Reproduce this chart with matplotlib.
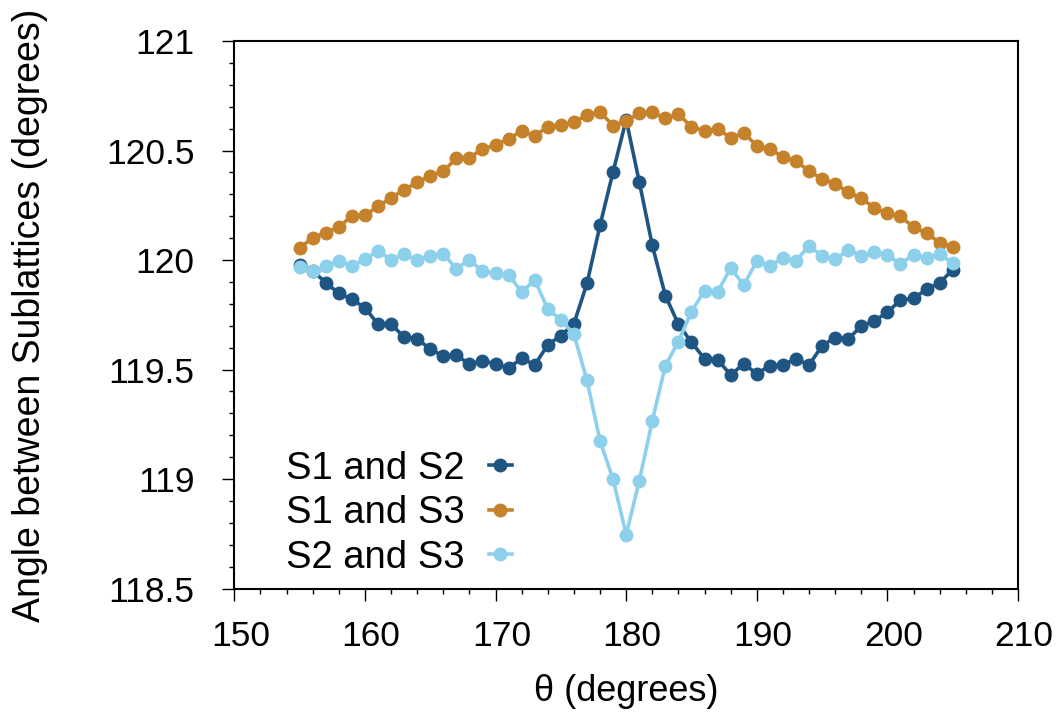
import matplotlib
matplotlib.use("Agg")
import matplotlib.pyplot as plt
from matplotlib.ticker import MultipleLocator, FuncFormatter
from matplotlib.transforms import ScaledTranslation

plt.rcParams['font.family'] = ['Liberation Sans', 'DejaVu Sans']

theta = list(range(155, 206))

s1_s2 = [119.976, 119.951, 119.897, 119.848, 119.820, 119.783, 119.707, 119.707, 119.649, 119.640,
         119.594, 119.561, 119.567, 119.524, 119.539, 119.527, 119.506, 119.552, 119.521, 119.613,
         119.655, 119.710, 119.893, 120.159, 120.403, 120.641, 120.358, 120.067, 119.838, 119.707,
         119.625, 119.549, 119.546, 119.475, 119.527, 119.481, 119.518, 119.521, 119.549, 119.521,
         119.609, 119.646, 119.640, 119.698, 119.722, 119.762, 119.817, 119.826, 119.866, 119.897,
         119.955]

s1_s3 = [120.055, 120.101, 120.125, 120.150, 120.202, 120.205, 120.245, 120.284, 120.321, 120.354,
         120.385, 120.406, 120.464, 120.467, 120.507, 120.525, 120.553, 120.589, 120.568, 120.608,
         120.617, 120.629, 120.663, 120.675, 120.614, 120.635, 120.669, 120.675, 120.647, 120.666,
         120.608, 120.589, 120.598, 120.559, 120.580, 120.522, 120.507, 120.470, 120.452, 120.406,
         120.370, 120.348, 120.309, 120.281, 120.239, 120.214, 120.199, 120.150, 120.122, 120.080,
         120.058]

s2_s3 = [119.970, 119.948, 119.973, 119.997, 119.973, 120.003, 120.043, 120.000, 120.028, 120.000,
         120.019, 120.028, 119.961, 120.000, 119.948, 119.939, 119.933, 119.854, 119.909, 119.777,
         119.726, 119.662, 119.451, 119.174, 118.999, 118.747, 118.991, 119.266, 119.518, 119.628,
         119.765, 119.860, 119.854, 119.964, 119.887, 119.994, 119.973, 120.010, 119.997, 120.065,
         120.019, 120.003, 120.046, 120.019, 120.037, 120.022, 119.982, 120.025, 120.010, 120.028,
         119.985]

labels = ["S1 and S2", "S1 and S3", "S2 and S3"]
colors = ["#1f5582", "#c5822b", "#8dd0ec"]

fig = plt.figure(figsize=(10.64, 7.2), dpi=100)
ax = fig.add_axes([0.2202, 0.1824, 0.7366, 0.7607])

for y, lab, c in zip([s1_s2, s1_s3, s2_s3], labels, colors):
    ax.plot(theta, y, '-o', color=c, lw=2.6, ms=9.0, label=lab)

ax.set_xlim(150, 210)
ax.set_ylim(118.5, 121)
ax.xaxis.set_major_locator(MultipleLocator(10))
ax.xaxis.set_minor_locator(MultipleLocator(2))
ax.yaxis.set_major_locator(MultipleLocator(0.5))
ax.yaxis.set_minor_locator(MultipleLocator(0.1))
ax.yaxis.set_major_formatter(FuncFormatter(lambda v, p: f"{v:g}"))

ax.tick_params(which='both', direction='out', top=False, right=False, width=1.0)
ax.tick_params(which='major', length=8.6, labelsize=25.5)
ax.tick_params(which='minor', length=3.6)
ax.tick_params(axis='y', which='major', pad=20)
ax.tick_params(axis='x', which='major', pad=14)
for sp in ax.spines.values():
    sp.set_linewidth(1.5)

offset = ScaledTranslation(0.06, 0, fig.dpi_scale_trans)
for lbl in ax.get_xticklabels():
    lbl.set_transform(lbl.get_transform() + offset)

ax.set_xlabel("θ (degrees)", fontsize=26, labelpad=15)
ax.set_ylabel("Angle between Sublattices (degrees)", fontsize=27, labelpad=42)

leg = ax.legend(loc='lower left', bbox_to_anchor=(0.066, 0.024), frameon=False, fontsize=27.5,
                markerfirst=False, handlelength=0.6, labelspacing=0.22, handletextpad=0.63,
                borderpad=0, borderaxespad=0)

fig.savefig("out.png", dpi=100)
